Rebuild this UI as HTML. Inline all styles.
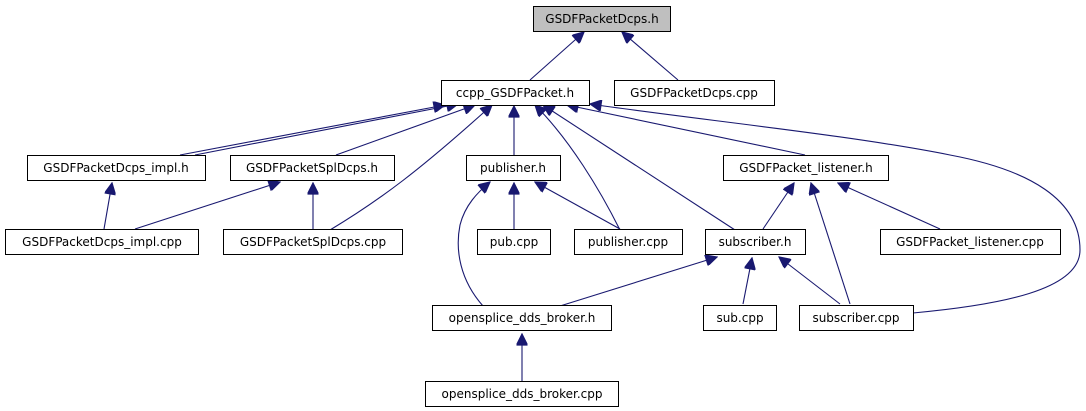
<!DOCTYPE html>
<html><head><meta charset="utf-8"><style>
body{margin:0;background:#fff;}
svg{display:block;}
text{font-family:"DejaVu Sans","Liberation Sans",sans-serif;font-size:12px;fill:#000;}
rect{stroke:#000;stroke-width:1;fill:#fff;}
path{stroke:#191970;stroke-width:1.1;fill:none;}
</style></head><body>
<svg width="1086" height="411" viewBox="0 0 1086 411" xmlns="http://www.w3.org/2000/svg">
<defs><marker id="a" viewBox="0 0 10 10" refX="10" refY="5" markerWidth="13" markerHeight="11" markerUnits="userSpaceOnUse" orient="auto"><path d="M0,0L10,5L0,10z" style="fill:#191970;stroke:#191970"/></marker></defs>
<g>
<path marker-end="url(#a)" d="M530,80L584,32"/>
<path marker-end="url(#a)" d="M678,80L622,32"/>
<path marker-end="url(#a)" d="M180,155L445,105"/>
<path marker-end="url(#a)" d="M195,155L458,104"/>
<path marker-end="url(#a)" d="M336,155L475,105"/>
<path marker-end="url(#a)" d="M330,230C380,200 420,170 492,105"/>
<path marker-end="url(#a)" d="M514,155L514,106"/>
<path marker-end="url(#a)" d="M620,230C600,190 570,140 535,105"/>
<path marker-end="url(#a)" d="M735,230L543,105"/>
<path marker-end="url(#a)" d="M805,155L567,105"/>
<path marker-end="url(#a)" d="M913,313C1000,305 1080,290 1080,250C1080,200 1030,170 950,155C850,135 700,120 590,104"/>
<path marker-end="url(#a)" d="M104,229L112,183"/>
<path marker-end="url(#a)" d="M135,229L280,182"/>
<path marker-end="url(#a)" d="M313,229L313,183"/>
<path marker-end="url(#a)" d="M514,229L514,183"/>
<path marker-end="url(#a)" d="M620,229L535,182"/>
<path marker-end="url(#a)" d="M483,306C460,280 455,250 460,225C465,205 478,192 490,182"/>
<path marker-end="url(#a)" d="M763,229L794,183"/>
<path marker-end="url(#a)" d="M850,304L811,183"/>
<path marker-end="url(#a)" d="M940,229L838,183"/>
<path marker-end="url(#a)" d="M560,306L717,257"/>
<path marker-end="url(#a)" d="M743,304L752,258"/>
<path marker-end="url(#a)" d="M840,304L779,257"/>
<path marker-end="url(#a)" d="M522,382L522,334"/>
</g>
<rect x="533.5" y="6.5" width="137" height="25" style="fill:#bfbfbf"/><text x="602" y="23" text-anchor="middle">GSDFPacketDcps.h</text>
<rect x="441.5" y="80.5" width="148" height="25"/><text x="515" y="97" text-anchor="middle">ccpp_GSDFPacket.h</text>
<rect x="614.5" y="80.5" width="160" height="25"/><text x="694" y="97" text-anchor="middle">GSDFPacketDcps.cpp</text>
<rect x="27.5" y="155.5" width="178" height="25"/><text x="116" y="172" text-anchor="middle">GSDFPacketDcps_impl.h</text>
<rect x="230.5" y="155.5" width="164" height="25"/><text x="312" y="172" text-anchor="middle">GSDFPacketSplDcps.h</text>
<rect x="466.5" y="155.5" width="94" height="25"/><text x="513" y="172" text-anchor="middle">publisher.h</text>
<rect x="723.5" y="155.5" width="165" height="25"/><text x="806" y="172" text-anchor="middle">GSDFPacket_listener.h</text>
<rect x="5.5" y="229.5" width="193" height="25"/><text x="102" y="246" text-anchor="middle">GSDFPacketDcps_impl.cpp</text>
<rect x="223.5" y="229.5" width="179" height="25"/><text x="313" y="246" text-anchor="middle">GSDFPacketSplDcps.cpp</text>
<rect x="477.5" y="229.5" width="73" height="25"/><text x="514" y="246" text-anchor="middle">pub.cpp</text>
<rect x="574.5" y="229.5" width="108" height="25"/><text x="628" y="246" text-anchor="middle">publisher.cpp</text>
<rect x="705.5" y="229.5" width="100" height="25"/><text x="755" y="246" text-anchor="middle">subscriber.h</text>
<rect x="880.5" y="229.5" width="180" height="25"/><text x="970" y="246" text-anchor="middle">GSDFPacket_listener.cpp</text>
<rect x="432.5" y="305.5" width="179" height="25"/><text x="522" y="322" text-anchor="middle">opensplice_dds_broker.h</text>
<rect x="703.5" y="305.5" width="73" height="25"/><text x="740" y="322" text-anchor="middle">sub.cpp</text>
<rect x="799.5" y="305.5" width="114" height="25"/><text x="856" y="322" text-anchor="middle">subscriber.cpp</text>
<rect x="425.5" y="381.5" width="193" height="25"/><text x="522" y="398" text-anchor="middle">opensplice_dds_broker.cpp</text>
</svg>
</body></html>
